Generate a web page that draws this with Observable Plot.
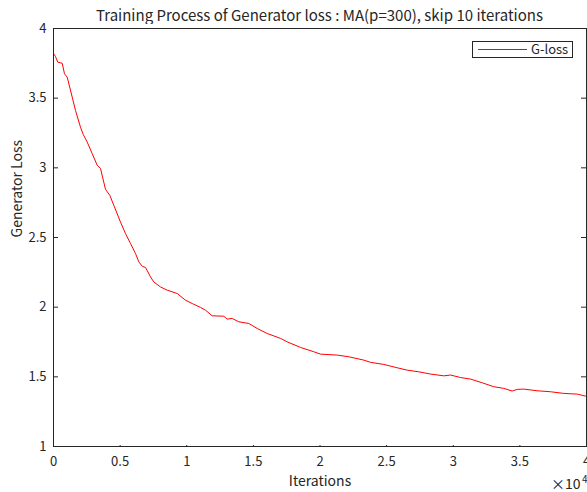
<!DOCTYPE html>
<html>
<head>
<meta charset="utf-8">
<script src="https://cdn.jsdelivr.net/npm/d3@7"></script>
<script src="https://cdn.jsdelivr.net/npm/@observablehq/plot@0.6"></script>
<style>
  html, body { margin: 0; padding: 0; background: #fff; }
  body { width: 587px; height: 492px; position: relative; overflow: hidden;
         font-family: "Noto Sans CJK JP", "Noto Sans", sans-serif; color: #262626; }
  #title { position: absolute; left: 53px; top: 6px; width: 533px; text-align: center;
           font-size: 15px; line-height: 18px; white-space: nowrap; }
  #chart { position: absolute; left: 0; top: 24px; }
  #legend { position: absolute; left: 472px; top: 41px; width: 101px; height: 17px;
            box-sizing: border-box; border: 1px solid #262626; background: #fff; font-size: 13px; }
  #legend .sw { position: absolute; left: 5px; top: 7px; width: 49px; height: 0; border-top: 1px solid #ff0000; }
  #legend .lb { position: absolute; left: 58px; top: -1px; line-height: 16px; }
</style>
</head>
<body>
<div id="title">Training Process of Generator loss : MA(p=300), skip 10 iterations</div>
<div id="chart"></div>
<div id="legend"><div class="sw"></div><div class="lb">G-loss</div></div>
<script>
const iterations = [0,150,323,653,826,1028,1403,1651,2026,2229,2529,2904,3280,3527,3903,4225,4526,5028,5404,5779,6154,6402,6657,6905,7280,7528,8030,8533,9284,9907,10410,11032,11408,11910,12781,13036,13411,13907,14657,15288,16038,17036,17539,18537,19535,20038,21291,22162,23288,23791,24789,25795,26545,27416,28294,29292,29795,30545,31296,32174,33045,33795,34426,34801,35296,36302,37300,38298,39304,39927];
const gLoss = [3.821,3.799,3.758,3.751,3.675,3.651,3.508,3.412,3.292,3.240,3.185,3.102,3.018,2.996,2.845,2.803,2.731,2.611,2.528,2.457,2.385,2.325,2.294,2.285,2.217,2.181,2.145,2.122,2.098,2.050,2.026,1.998,1.978,1.938,1.935,1.914,1.919,1.895,1.883,1.847,1.811,1.776,1.751,1.711,1.680,1.663,1.656,1.644,1.620,1.604,1.589,1.565,1.548,1.536,1.520,1.507,1.513,1.495,1.484,1.457,1.429,1.417,1.398,1.410,1.412,1.400,1.393,1.381,1.376,1.362];
const xTicks = [0,5000,10000,15000,20000,25000,30000,35000,40000];
const yTicks = [1,1.5,2,2.5,3,3.5,4];

const data = iterations.map((x, i) => ({x, y: gLoss[i]}));
const axisColor = "#262626";

const chart = Plot.plot({
  width: 587,
  height: 468,
  marginTop: 4,
  marginBottom: 46,
  marginLeft: 53,
  marginRight: 1,
  style: {fontFamily: '"Noto Sans CJK JP", "Noto Sans", sans-serif', fontSize: "13px", color: axisColor, background: "white", overflow: "visible"},
  x: {domain: [0, 40000]},
  y: {domain: [1, 4]},
  marks: [
    Plot.line(data, {x: "x", y: "y", stroke: "#ff0000", strokeWidth: 1}),
    Plot.frame({stroke: axisColor}),
    Plot.tickY(yTicks, {y: d => d, stroke: axisColor, insetRight: 528}),
    Plot.tickY(yTicks, {y: d => d, stroke: axisColor, insetLeft: 528}),
    Plot.tickX(xTicks, {x: d => d, stroke: axisColor, insetTop: 417}),
    Plot.tickX(xTicks, {x: d => d, stroke: axisColor, insetBottom: 417}),
    Plot.axisX(xTicks, {tickSize: 0, tickPadding: 10, tickFormat: d => String(d / 10000), label: null, fill: axisColor, fontSize: 13}),
    Plot.axisY(yTicks, {tickSize: 0, tickPadding: 7, tickFormat: d => String(d), label: null, fill: axisColor, fontSize: 13}),
    Plot.text(["Iterations"], {frameAnchor: "bottom", dy: 39, fontSize: 14, fill: axisColor}),
    Plot.text(["Generator Loss"], {frameAnchor: "left", rotate: -90, dx: -36, fontSize: 14, fill: axisColor}),
    Plot.text(["×10"], {frameAnchor: "bottom-right", textAnchor: "end", dx: -6, dy: 42, fontSize: 14, fill: axisColor}),
    Plot.text(["4"], {frameAnchor: "bottom-right", textAnchor: "end", dx: 1, dy: 36, fontSize: 10, fill: axisColor})
  ]
});
document.getElementById("chart").appendChild(chart);
</script>
</body>
</html>
